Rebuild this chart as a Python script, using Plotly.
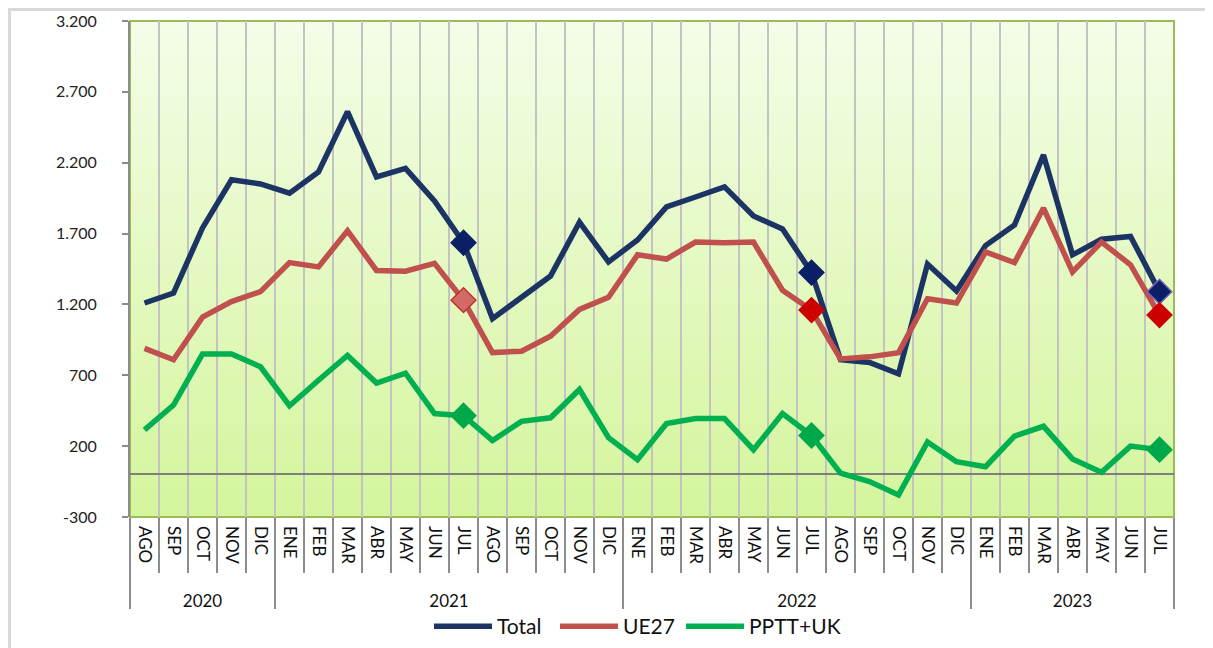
import base64
import struct
import zlib

import plotly.graph_objects as go

# Months shown on the axis (AGO 2020 -> JUL 2023)
years = ["2020"] * 5 + ["2021"] * 12 + ["2022"] * 12 + ["2023"] * 7
months = (
    ["AGO", "SEP", "OCT", "NOV", "DIC"]
    + ["ENE", "FEB", "MAR", "ABR", "MAY", "JUN", "JUL", "AGO", "SEP", "OCT", "NOV", "DIC"] * 2
    + ["ENE", "FEB", "MAR", "ABR", "MAY", "JUN", "JUL"]
)

total = [
    1210, 1280, 1740, 2080, 2050,
    1985, 2135, 2560, 2100, 2160, 1930, 1635, 1100, 1250, 1400, 1780, 1500,
    1655, 1888, 1958, 2030, 1824, 1732, 1425, 810, 790, 710, 1485, 1295,
    1615, 1760, 2255, 1550, 1660, 1680, 1290,
]
ue27 = [
    890, 810, 1110, 1220, 1290,
    1495, 1465, 1720, 1440, 1435, 1490, 1230, 860, 870, 975, 1165, 1250,
    1550, 1520, 1640, 1635, 1640, 1300, 1160, 815, 830, 860, 1240, 1210,
    1570, 1495, 1880, 1430, 1640, 1480, 1125,
]
pptt_uk = [
    315, 490, 850, 850, 760,
    485, 665, 840, 645, 715, 430, 415, 240, 375, 400, 600, 260,
    105, 360, 395, 395, 175, 430, 275, 10, -50, -145, 230, 90,
    55, 270, 340, 110, 15, 200, 175,
]

y_ticks = [-300, 200, 700, 1200, 1700, 2200, 2700, 3200]
y_ticktext = ["-300", "200", "700", "1.200", "1.700", "2.200", "2.700", "3.200"]

FONT = "Gill Sans MT, Lato, sans-serif"
GRAY = "#8c8c8c"

# one category key per month, labelled with the month name only
keys = [f"{m} {y}" for m, y in zip(months, years)]
n = len(keys)
month_edges = [i - 0.5 for i in range(n + 1)]
year_edges = [-0.5] + [i - 0.5 for i in range(1, n) if years[i] != years[i - 1]] + [n - 0.5]
year_names = [years[int(e + 0.5)] for e in year_edges[:-1]]
year_mids = [(a + b) / 2 for a, b in zip(year_edges[:-1], year_edges[1:])]


def gradient_png(top, bottom, h=256):
    # small vertical gradient image used as plot background
    raw = b""
    for i in range(h):
        t = i / (h - 1)
        c = bytes(round(a + (b - a) * t) for a, b in zip(top, bottom))
        raw += b"\x00" + c * 2

    def chunk(tag, data):
        return (struct.pack(">I", len(data)) + tag + data
                + struct.pack(">I", zlib.crc32(tag + data) & 0xFFFFFFFF))

    png = (b"\x89PNG\r\n\x1a\n"
           + chunk(b"IHDR", struct.pack(">IIBBBBB", 2, h, 8, 2, 0, 0, 0))
           + chunk(b"IDAT", zlib.compress(raw))
           + chunk(b"IEND", b""))
    return "data:image/png;base64," + base64.b64encode(png).decode()


L, T, W, H = 122, 13, 1044, 496  # plot box in figure pixels (page has an 8px body margin)

fig = go.Figure()

series = [
    ("Total", total, "#1c3464", ["#0a1f66", "#0a1f66", "#0a1f66"], ["#0a1f66", "#0a1f66", "#7a66b8"]),
    ("UE27", ue27, "#c0504d", ["#d46a66", "#cc0000", "#cc0000"], ["#c0302d", "#cc0000", "#cc0000"]),
    ("PPTT+UK", pptt_uk, "#00b050", ["#00a84a", "#00a84a", "#00a84a"], ["#00a84a", "#00a84a", "#00a84a"]),
]
legend_ids = ["legend", "legend2", "legend3"]
legend_px = [421, 547, 673]  # left edge of each legend entry, figure pixels

for (name, vals, color, mfill, mline), lg in zip(series, legend_ids):
    fig.add_trace(go.Scatter(
        x=keys, y=vals, name=name, mode="lines", legend=lg,
        line=dict(color=color, width=5.5),
    ))

# diamond markers on every July
jul = [i for i, m in enumerate(months) if m == "JUL"]
for name, vals, color, mfill, mline in series:
    fig.add_trace(go.Scatter(
        x=[keys[i] for i in jul], y=[vals[i] for i in jul],
        mode="markers", showlegend=False, hoverinfo="skip",
        marker=dict(symbol="diamond", size=19, color=mfill,
                    line=dict(color=mline, width=1.5)),
    ))

# empty traces so the helper axes (ticks, years) get drawn
for ax in ["x2", "x3"]:
    fig.add_trace(go.Scatter(x=[None], y=[None], xaxis=ax, yaxis="y",
                             showlegend=False, hoverinfo="skip"))

legends = {
    lg: dict(orientation="h", x=(px - L) / W, xanchor="left", y=-0.221, yanchor="middle",
             font=dict(size=21, color="#111"), itemwidth=58, bgcolor="rgba(0,0,0,0)")
    for lg, px in zip(legend_ids, legend_px)
}

fig.update_layout(
    width=1213, height=648,
    margin=dict(l=L, r=1213 - L - W, t=T, b=648 - T - H, autoexpand=False),
    paper_bgcolor="white", plot_bgcolor="#e8f9cf",
    font=dict(family=FONT, size=14, color="#222"),
    showlegend=True,
    images=[dict(source=gradient_png((244, 253, 232), (212, 245, 156)),
                 xref="paper", yref="paper", x=0, y=1, sizex=1, sizey=1,
                 sizing="stretch", layer="below")],
    shapes=[
        dict(type="rect", xref="paper", yref="paper", x0=0, x1=1, y0=0, y1=1,
             line=dict(color="#9bbb59", width=2), layer="below"),
        dict(type="rect", xref="paper", yref="paper",
             x0=(1.5 - L) / W, x1=(1204 - L) / W,
             y0=(T + H - 660) / H, y1=(T + H - 1.5) / H,
             line=dict(color="#d9d9d9", width=3), layer="below"),
    ],
    **legends,
)

fig.update_yaxes(
    range=[-300, 3200], tickvals=y_ticks, ticktext=y_ticktext,
    showgrid=False, zeroline=True, zerolinecolor="#7f7f7f", zerolinewidth=2,
    showline=True, linecolor=GRAY, linewidth=2,
    ticks="outside", ticklen=6, tickcolor=GRAY, tickwidth=1.5,
    ticklabelstandoff=22, automargin=False,
    tickfont=dict(size=16, color="#222"),
)

# months: labels + vertical grid on category boundaries
fig.update_layout(xaxis=dict(
    type="category", range=[-0.5, n - 0.5],
    tickvals=keys, ticktext=months, tickangle=90, ticks="",
    tickson="boundaries", ticklabelstandoff=8, automargin=False,
    tickfont=dict(size=17, color="#111"),
    showgrid=True, gridcolor="#c3c3c3", gridwidth=2,
    showline=False, zeroline=False,
))
# short ticks between months, long ticks between years
fig.update_layout(xaxis2=dict(
    overlaying="x", anchor="y", side="bottom", type="linear",
    range=[-0.5, n - 0.5], tickmode="array", tickvals=year_edges,
    ticks="outside", ticklen=91, tickwidth=2, tickcolor=GRAY,
    minor=dict(tickmode="array", tickvals=month_edges, ticks="outside",
               ticklen=55, tickwidth=2, tickcolor=GRAY, showgrid=False),
    showticklabels=False, showgrid=False, zeroline=False, showline=False,
    automargin=False,
))
# year labels under the month labels
fig.update_layout(xaxis3=dict(
    overlaying="x", anchor="y", side="bottom", type="linear",
    range=[-0.5, n - 0.5], tickmode="array", tickvals=year_mids, ticktext=year_names,
    ticks="", ticklabelstandoff=72, tickfont=dict(size=17, color="#111"),
    showgrid=False, zeroline=False, showline=False, automargin=False,
))

fig.write_html("out.html")
